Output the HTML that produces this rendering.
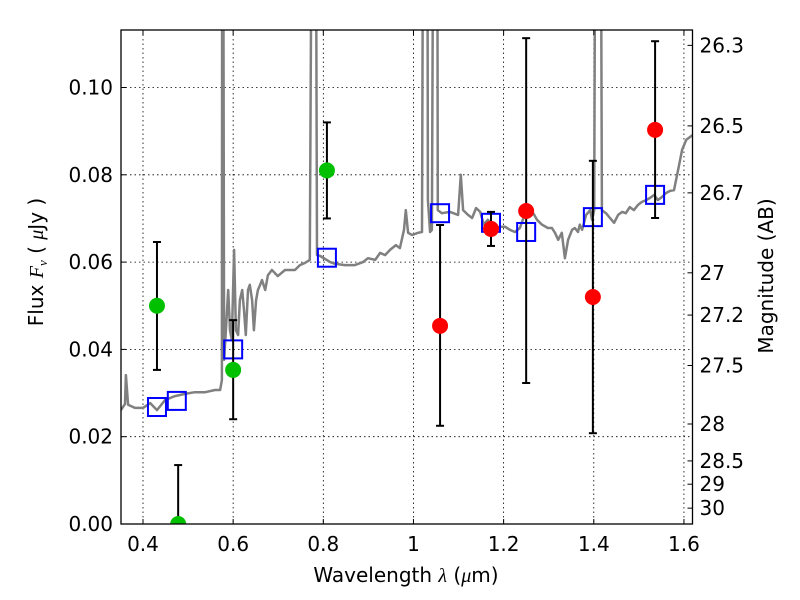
<!DOCTYPE html>
<html><head><meta charset="utf-8"><style>
html,body{margin:0;padding:0;background:#fff;}
svg{display:block;font-family:"DejaVu Sans","Liberation Sans",sans-serif;}
</style></head><body>
<svg id="chart" width="800" height="600" xmlns="http://www.w3.org/2000/svg">
<defs><clipPath id="clip"><rect x="121" y="30" width="571.5" height="494"/></clipPath></defs>
<g id="grid"></g>
<g id="spec" clip-path="url(#clip)"></g>
<g id="marks" clip-path="url(#clip)"></g>
<rect x="121" y="30" width="571.5" height="494" fill="none" stroke="#000" stroke-width="1.3"/>
<g id="axes"></g>
<text x="406" y="582" font-size="20" text-anchor="middle">Wavelength  <tspan font-family="Liberation Serif" font-style="italic">λ</tspan> (<tspan font-family="Liberation Serif" font-style="italic">μ</tspan>m)</text>
<text transform="translate(43,262) rotate(-90)" font-size="20" text-anchor="middle">Flux  <tspan font-family="Liberation Serif" font-style="italic">F<tspan font-size="13" dy="4">ν</tspan></tspan><tspan dy="-4">  (  </tspan><tspan font-family="Liberation Serif" font-style="italic">μ</tspan>Jy )</text>
<text transform="translate(773,276) rotate(-90)" font-size="20" text-anchor="middle">Magnitude (AB)</text>
</svg>
<script>
const xTicks=[0.4,0.6,0.8,1.0,1.2,1.4,1.6];
const xTickLabels=["0.4","0.6","0.8","1","1.2","1.4","1.6"];
const yTicks=[0,0.02,0.04,0.06,0.08,0.10];
const yTickLabels=["0.00","0.02","0.04","0.06","0.08","0.10"];
const magTicks=[26.3,26.5,26.7,27,27.2,27.5,28,28.5,29,30];
const magLabels=["26.3","26.5","26.7","27","27.2","27.5","28","28.5","29","30"];
const specLam=[0.351,0.360,0.362,0.367,0.382,0.400,0.416,0.431,0.449,0.471,0.493,0.515,0.538,0.560,0.571,0.573,0.575,0.576,0.577,0.580,0.584,0.589,0.593,0.597,0.602,0.606,0.611,0.615,0.620,0.624,0.628,0.633,0.637,0.642,0.646,0.651,0.655,0.660,0.664,0.671,0.677,0.686,0.699,0.715,0.737,0.748,0.759,0.770,0.777,0.782,0.786,0.793,0.815,0.826,0.848,0.870,0.888,0.899,0.915,0.926,0.937,0.948,0.961,0.970,0.979,0.983,0.988,0.997,1.010,1.019,1.023,1.030,1.032,1.037,1.041,1.046,1.052,1.054,1.063,1.081,1.099,1.105,1.110,1.121,1.130,1.139,1.148,1.156,1.165,1.181,1.192,1.203,1.214,1.225,1.236,1.250,1.258,1.267,1.274,1.285,1.298,1.307,1.314,1.321,1.329,1.336,1.343,1.352,1.358,1.365,1.369,1.374,1.383,1.392,1.396,1.401,1.405,1.414,1.418,1.427,1.436,1.445,1.454,1.463,1.471,1.480,1.489,1.498,1.507,1.516,1.525,1.534,1.542,1.551,1.560,1.569,1.578,1.587,1.596,1.605,1.619];
const specFlux=[0.0261,0.0275,0.0341,0.0273,0.0266,0.0266,0.0277,0.0261,0.0284,0.0293,0.0298,0.0302,0.0302,0.0307,0.0307,0.0318,0.0330,0.2,0.2,0.0376,0.0444,0.0536,0.0444,0.0422,0.0628,0.0444,0.0433,0.0513,0.0536,0.0490,0.0433,0.0536,0.0548,0.0513,0.0444,0.0513,0.0536,0.0548,0.0559,0.0536,0.0570,0.0582,0.0568,0.0582,0.0582,0.0593,0.0598,0.0605,0.2,0.2,0.0616,0.0614,0.0600,0.0596,0.0593,0.0593,0.0600,0.0609,0.0605,0.0621,0.0616,0.0628,0.0639,0.0632,0.0674,0.0719,0.0667,0.0662,0.0667,0.0669,0.2,0.2,0.0742,0.0669,0.0674,0.2,0.2,0.0719,0.0712,0.0715,0.0708,0.0800,0.0719,0.0708,0.0701,0.0724,0.0715,0.0686,0.0697,0.0678,0.0681,0.0681,0.0674,0.0669,0.0678,0.0719,0.0719,0.0710,0.0697,0.0686,0.0678,0.0678,0.0667,0.0651,0.0667,0.0609,0.0651,0.0674,0.0678,0.0669,0.0686,0.0674,0.0708,0.0719,0.0697,0.0719,0.2,0.2,0.0719,0.0712,0.0701,0.0690,0.0708,0.0715,0.0712,0.0726,0.0719,0.0731,0.0738,0.0742,0.0747,0.0754,0.0742,0.0749,0.0758,0.0763,0.0765,0.0811,0.0857,0.0880,0.0891];
const greenLam=[0.431,0.478,0.600,0.808];
const greenFlux=[0.050,0.0,0.0353,0.081];
const greenHi=[0.0646,0.0135,0.0467,0.092];
const greenLo=[0.0353,-0.01,0.024,0.070];
const redLam=[1.059,1.172,1.250,1.398,1.536];
const redFlux=[0.0454,0.0676,0.0717,0.052,0.0903];
const redHi=[0.0685,0.0715,0.1113,0.0832,0.1106];
const redLo=[0.0225,0.0637,0.0323,0.0208,0.0701];
const modelLam=[0.431,0.475,0.600,0.808,1.059,1.172,1.250,1.398,1.536];
const modelFlux=[0.0268,0.0282,0.040,0.061,0.0712,0.069,0.0669,0.0703,0.0754];

const X0=121,X1=692.5,Y0=30,Y1=524;
const xmin=0.3512,xmax=1.6190,ymin=0,ymax=0.11317;
const sx=v=>X0+(v-xmin)/(xmax-xmin)*(X1-X0);
const sy=v=>Y1-(v-ymin)/(ymax-ymin)*(Y1-Y0);
const magToFlux=m=>Math.pow(10,(23.9-m)/2.5);
const NS="http://www.w3.org/2000/svg";
function mk(tag,parent,attrs){const e=document.createElementNS(NS,tag);for(const k in attrs)e.setAttribute(k,attrs[k]);parent.appendChild(e);return e;}
const grid=document.getElementById('grid'),axes=document.getElementById('axes'),spec=document.getElementById('spec'),marks=document.getElementById('marks');

xTicks.forEach((v,i)=>{const x=sx(v);
 const g=mk('line',grid,{x1:x,x2:x,y1:Y0,y2:Y1,stroke:'#000','stroke-width':0.8,'stroke-dasharray':'1.5,3'});
 
 
 mk('line',axes,{x1:x,x2:x,y1:Y1,y2:Y1-5,stroke:'#000'});
 mk('line',axes,{x1:x,x2:x,y1:Y0,y2:Y0+5,stroke:'#000'});
 const t=mk('text',axes,{x:x,y:Y1+27,'font-size':20,'text-anchor':'middle'});t.textContent=xTickLabels[i];
 
 
});
yTicks.forEach((v,i)=>{const y=sy(v);
 if(i>0){const g=mk('line',grid,{x1:X0,x2:X1,y1:y,y2:y,stroke:'#000','stroke-width':0.8,'stroke-dasharray':'1.5,3'});
 
 }
 mk('line',axes,{x1:X0,x2:X0+5,y1:y,y2:y,stroke:'#000'});
 const t=mk('text',axes,{x:X0-8,y:y+7,'font-size':20,'text-anchor':'end'});t.textContent=yTickLabels[i];
 
 
});
magTicks.forEach((m,i)=>{const y=sy(magToFlux(m));
 mk('line',axes,{x1:X1-5,x2:X1,y1:y,y2:y,stroke:'#000'});
 const t=mk('text',axes,{x:X1+7,y:y+7,'font-size':20});t.textContent=magLabels[i];
 
 
});
let d='';specLam.forEach((l,i)=>{d+=(i?'L':'M')+sx(l).toFixed(1)+','+sy(specFlux[i]).toFixed(1);});
const sp=mk('path',spec,{d:d,fill:'none',stroke:'#808080','stroke-width':2.5,'stroke-linejoin':'round'});



function errbar(l,lo,hi){const x=sx(l);
 mk('line',marks,{x1:x,x2:x,y1:sy(lo),y2:sy(hi),stroke:'#000','stroke-width':2});
 mk('line',marks,{x1:x-4,x2:x+4,y1:sy(lo),y2:sy(lo),stroke:'#000','stroke-width':2});
 mk('line',marks,{x1:x-4,x2:x+4,y1:sy(hi),y2:sy(hi),stroke:'#000','stroke-width':2});}
modelLam.forEach((l,i)=>{const r=mk('rect',marks,{x:sx(l)-9,y:sy(modelFlux[i])-9,width:18,height:18,fill:'none',stroke:'#0000ff','stroke-width':2});
 
 });
greenLam.forEach((l,i)=>{errbar(l,greenLo[i],greenHi[i]);
 const c=mk('circle',marks,{cx:sx(l),cy:sy(greenFlux[i]),r:8,fill:'#00c000'});
 
 });
redLam.forEach((l,i)=>{errbar(l,redLo[i],redHi[i]);
 const c=mk('circle',marks,{cx:sx(l),cy:sy(redFlux[i]),r:8,fill:'#ff0000'});
 
 });
</script>
</body></html>
